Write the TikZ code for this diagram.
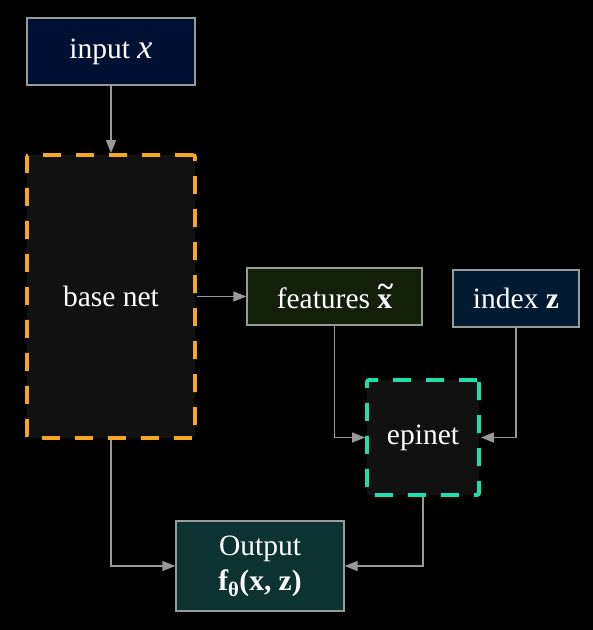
\documentclass[tikz,border=0pt]{standalone}
\usepackage{fontspec}
\setmainfont{Liberation Serif}
\usetikzlibrary{positioning,arrows.meta}
\definecolor{inbg}{RGB}{0,16,51}
\definecolor{featbg}{RGB}{18,32,10}
\definecolor{idxbg}{RGB}{2,26,50}
\definecolor{outbg}{RGB}{13,50,50}
\definecolor{netbg}{RGB}{17,17,17}
\definecolor{baseor}{RGB}{245,166,35}
\definecolor{epiteal}{RGB}{30,222,170}
\definecolor{edgegr}{RGB}{153,153,153}
\newcommand{\tildex}{\textbf{\rlap{\raisebox{0.40em}{\hspace{0.5pt}\char`\~}}x}}

\begin{document}
\begin{tikzpicture}[x=1pt, y=-1pt,
    box/.style={draw=edgegr, line width=1.3pt, text=white, inner sep=0pt,
        align=center, font=\fontsize{29.5}{35}\selectfont},
    netbox/.style={box, fill=netbg, line width=3.8pt, rounded corners=2pt,
        dash pattern=on 18pt off 15pt},
    link/.style={draw=edgegr, line width=1.3pt,
        -{Triangle[length=13pt, width=10pt]}}]
% Background
\fill[black] (0,0) rectangle (593,630);
\useasboundingbox (0,0) rectangle (593,630);

% Input and base network
\node[box, fill=inbg, minimum width=168pt, minimum height=67pt] (input) at (111,51.5) {input {\fontsize{34}{34}\selectfont\textit{x}}};
\node[netbox, draw=baseor, minimum width=168pt, minimum height=283pt] (base) at (111,296.5) {base net};

% Features, index and epinet
\node[box, fill=featbg, minimum width=175pt, minimum height=57pt] (feat) at (334.5,296.5) {features \tildex};
\node[box, fill=idxbg, minimum width=126pt, minimum height=57pt] (index) at (516,298.5) {index \textbf{z}};
\node[netbox, draw=epiteal, minimum width=112pt, minimum height=115pt] (epi) at (423,437.5) {epinet};

% Output
\node[box, fill=outbg, minimum width=168pt, minimum height=90pt] (out) at (260,566) {Output\\\textbf{f\textsubscript{θ}(x, z)}};

% Connectors
\draw[link] (input) -- (base);
\draw[link] (base.east |- feat) -- (feat);
\draw[link] (feat.south) |- (epi.west);
\draw[link] (index.south) |- (epi.east);
\draw[link] (base.south) |- (out.west);
\draw[link] (epi.south) |- (out.east);
\end{tikzpicture}
\end{document}
